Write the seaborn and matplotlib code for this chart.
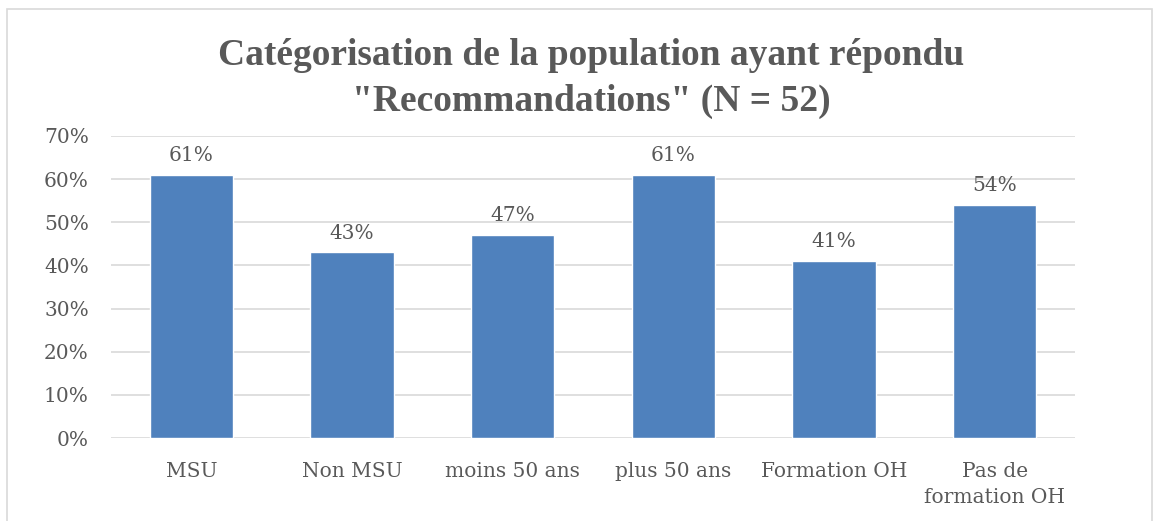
import matplotlib
matplotlib.use("Agg")
import matplotlib.pyplot as plt
import seaborn as sns
import pandas as pd
from matplotlib.patches import Rectangle

# data
categories = ['MSU', 'Non MSU', 'moins 50 ans', 'plus 50 ans', 'Formation OH', 'Pas de\nformation OH']
values = [61, 43, 47, 61, 41, 54]
yticks = [0, 10, 20, 30, 40, 50, 60, 70]

df = pd.DataFrame({'cat': categories, 'val': values})

sns.set_style('white')
plt.rcParams['font.family'] = ['Liberation Serif', 'DejaVu Serif']

grey = '#595959'
lab_font = 'DejaVu Serif'
fig = plt.figure(figsize=(11.59, 5.21), dpi=100)
ax = fig.add_axes([0.0958, 0.1593, 0.8317, 0.5797])

sns.barplot(data=df, x='cat', y='val', color='#4F81BD', saturation=1, width=0.52, ax=ax)

ax.set_ylim(0, 70)
ax.set_yticks(yticks)
ax.set_yticklabels([f'{t}%' for t in yticks], fontsize=14.5, color=grey, family=lab_font)
ax.set_xticks(range(len(categories)))
ax.set_xticklabels(categories, fontsize=14.5, color=grey, linespacing=1.5, family=lab_font)
ax.tick_params(axis='y', length=0, pad=16)
ax.tick_params(axis='x', length=0, pad=17)
ax.set_xlim(-0.5, len(categories) - 0.5)
ax.set_xlabel('')
ax.set_ylabel('')

ax.grid(axis='y', color='#D9D9D9', lw=1.2)
ax.set_axisbelow(True)
for s in ax.spines.values():
    s.set_visible(False)

# data labels
for i, v in enumerate(values):
    ax.text(i, v + 2.3, f'{v}%', ha='center', va='bottom', fontsize=14.5, color=grey, family=lab_font)

# title
fig.text(0.51, 0.85, 'Catégorisation de la population ayant répondu\n"Recommandations" (N = 52)',
         ha='center', va='center', fontsize=27, fontweight='bold', color=grey, linespacing=1.4)

# chart border
fig.patches.append(Rectangle((0.006, -0.01), 0.988, 0.993, transform=fig.transFigure,
                             fill=False, edgecolor='#D9D9D9', lw=1.2))

fig.savefig('out.png', dpi=100)
